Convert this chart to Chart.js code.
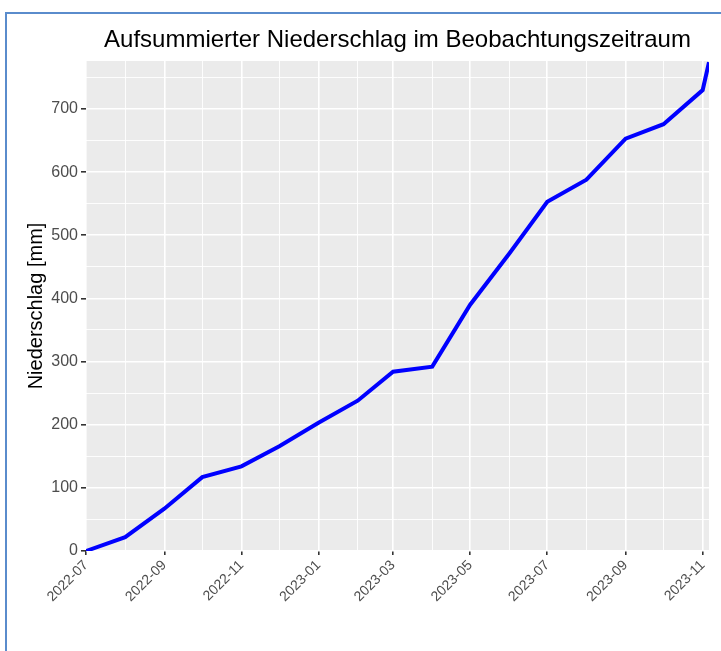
<!DOCTYPE html>
<html>
<head>
<meta charset="utf-8">
<script src="https://cdn.jsdelivr.net/npm/chart.js@4/dist/chart.umd.min.js"></script>
<style>
  html, body { margin: 0; padding: 0; background: #fff; }
  #frame { position: absolute; left: 5px; top: 12px; width: 760px; height: 700px;
           border-left: 2px solid #5a8ccc; border-top: 2px solid #5a8ccc; }
  #wrap { position: absolute; left: 0; top: 0; width: 721px; height: 651px; }
</style>
</head>
<body>
<div id="frame"></div>
<div id="wrap"><canvas id="rainChart" width="721" height="651"></canvas></div>
<script>
// Messdaten: aufsummierter Niederschlag (mm)
const dates = ['2022-07-01', '2022-08-01', '2022-09-01', '2022-10-01', '2022-11-01', '2022-12-01',
               '2023-01-01', '2023-02-01', '2023-03-01', '2023-04-01', '2023-05-01', '2023-06-01',
               '2023-07-01', '2023-08-01', '2023-09-01', '2023-10-01', '2023-11-01', '2023-11-06'];
const niederschlag = [0, 22, 67, 117, 134, 166, 203, 238, 284, 292, 390, 471, 553, 588, 653, 676, 730, 774];

// Achsenmarken: jeder Monat eine Gitterlinie, jeder zweite beschriftet
const monthTicks = ['2022-07', '2022-08', '2022-09', '2022-10', '2022-11', '2022-12',
                    '2023-01', '2023-02', '2023-03', '2023-04', '2023-05', '2023-06',
                    '2023-07', '2023-08', '2023-09', '2023-10', '2023-11'];
const yMax = 776;

const startDay = Date.UTC(2022, 6, 1);
function dayIndex(s) {
    const p = s.split('-').map(Number);
    return (Date.UTC(p[0], p[1] - 1, p[2] || 1) - startDay) / 86400000;
}

const points = dates.map((d, i) => ({ x: dayIndex(d), y: niederschlag[i] }));
const tickDays = monthTicks.map(m => dayIndex(m));
const fontFam = '"Liberation Sans", Arial, sans-serif';

const panelBg = {
    id: 'panelBg',
    beforeDraw(chart) {
        const a = chart.chartArea, c = chart.ctx;
        c.save();
        c.fillStyle = '#ebebeb';
        c.fillRect(a.left, a.top, a.right - a.left, a.bottom - a.top);
        c.restore();
    },
    afterDraw(chart) {
        // Titel über dem Panel zentriert (wie bei ggplot)
        const a = chart.chartArea, c = chart.ctx;
        c.save();
        c.font = '24px ' + fontFam;
        c.fillStyle = '#000';
        c.textAlign = 'center';
        c.textBaseline = 'middle';
        c.fillText('Aufsummierter Niederschlag im Beobachtungszeitraum', (a.left + a.right) / 2, 40);
        c.restore();
    }
};

const ctx = document.getElementById('rainChart').getContext('2d');
new Chart(ctx, {
    type: 'line',
    data: {
        datasets: [{
            label: 'Niederschlag',
            data: points,
            borderColor: '#0000ff',
            borderWidth: 4,
            pointRadius: 0,
            fill: false,
            tension: 0
        }]
    },
    options: {
        responsive: false,
        animation: false,
        layout: { padding: { top: 61, right: 12, left: 0, bottom: 0 } },
        plugins: { legend: { display: false }, tooltip: { enabled: false } },
        scales: {
            x: {
                type: 'linear',
                min: 0,
                max: dayIndex('2023-11-06'),
                afterBuildTicks: scale => { scale.ticks = tickDays.map(v => ({ value: v })); },
                afterFit: scale => { scale.height = 100; },
                border: { display: false },
                grid: {
                    color: '#ffffff',
                    lineWidth: c => c.index % 2 === 0 ? 1.6 : 0.9,
                    tickColor: c => c.index % 2 === 0 ? '#333333' : 'rgba(0,0,0,0)',
                    tickLength: 4
                },
                ticks: {
                    autoSkip: false,
                    minRotation: 45,
                    maxRotation: 45,
                    padding: 2,
                    color: '#4d4d4d',
                    font: { family: fontFam, size: 14 },
                    callback: (v, i) => i % 2 === 0 ? monthTicks[i] : ''
                }
            },
            y: {
                min: 0,
                max: yMax,
                afterFit: scale => { scale.width = 86; },
                border: { display: false },
                grid: {
                    color: '#ffffff',
                    lineWidth: c => c.tick.value % 100 === 0 ? 1.6 : 0.9,
                    tickColor: c => c.tick.value % 100 === 0 ? '#333333' : 'rgba(0,0,0,0)',
                    tickLength: 5
                },
                ticks: {
                    stepSize: 50,
                    includeBounds: false,
                    padding: 3,
                    color: '#4d4d4d',
                    font: { family: fontFam, size: 16 },
                    callback: v => v % 100 === 0 ? v : ''
                },
                title: {
                    display: true,
                    text: 'Niederschlag [mm]',
                    color: '#000',
                    font: { family: fontFam, size: 20 },
                    padding: { top: 24, bottom: 0 }
                }
            }
        }
    },
    plugins: [panelBg]
});
</script>
</body>
</html>
